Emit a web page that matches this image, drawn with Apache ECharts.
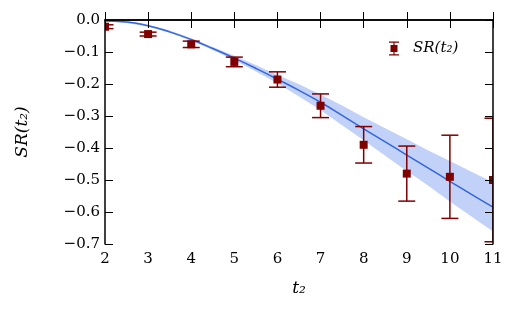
<!DOCTYPE html>
<html>
<head>
<meta charset="utf-8">
<script src="https://cdn.jsdelivr.net/npm/echarts@6/dist/echarts.min.js"></script>
<style>
  html, body { margin: 0; padding: 0; background: #fff; }
  #chart { width: 516px; height: 313px; }
</style>
</head>
<body>
<div id="chart"></div>
<script>
// measured points: t2, value, error
const ptX = [2, 3, 4, 5, 6, 7, 8, 9, 10, 11];
const ptY = [-0.021, -0.044, -0.076, -0.131, -0.186, -0.268, -0.390, -0.480, -0.490, -0.500];
const ptErr = [0.006, 0.006, 0.010, 0.015, 0.024, 0.037, 0.057, 0.086, 0.130, 0.193];

// fit curve and its band
const fitX = [2, 2.5, 3, 3.5, 4, 4.5, 5, 5.5, 6, 6.5, 7, 7.5, 8, 8.5, 9, 9.5, 10, 10.5, 11];
const fitY = [-0.003, -0.006, -0.018, -0.037, -0.061, -0.089, -0.119, -0.151, -0.185, -0.220,
  -0.257, -0.298, -0.340, -0.381, -0.422, -0.463, -0.504, -0.545, -0.585];
const bandHi = [-0.001, -0.003, -0.015, -0.033, -0.057, -0.084, -0.112, -0.141, -0.172, -0.201,
  -0.233, -0.267, -0.304, -0.338, -0.373, -0.408, -0.441, -0.474, -0.507];
const bandLo = [-0.005, -0.009, -0.021, -0.041, -0.065, -0.094, -0.126, -0.161, -0.198, -0.239,
  -0.281, -0.329, -0.376, -0.424, -0.472, -0.518, -0.567, -0.614, -0.661];

const font = "DejaVu Serif";
const red = "#800000";

const chart = echarts.init(document.getElementById("chart"));

const fmtY = v => {
  const s = Math.abs(v) < 1e-9 ? "0.0" : v.toFixed(1);
  return s.replace("-", "\u2212");
};

const baseAxis = {
  type: "value",
  z: 10,
  axisLine: { show: true, lineStyle: { color: "#000", width: 1.5 } },
  axisTick: { show: true, inside: true, length: 8, lineStyle: { color: "#000", width: 1 } },
  splitLine: { show: false }
};

chart.setOption({
  animation: false,
  grid: { left: 105, right: 23, top: 20, bottom: 69 },
  legend: {
    left: 389,
    top: 41,
    padding: 0,
    itemWidth: 10,
    itemHeight: 14,
    data: [{
      name: "SR(t\u2082)",
      icon: "path://M0,0H10V1.2H5.6V3.5H8.5V10.5H5.6V12.8H10V14H0V12.8H4.4V10.5H1.5V3.5H4.4V1.2H0Z"
    }],
    textStyle: { fontFamily: font, fontStyle: "italic", fontSize: 15, color: "#000", padding: [0, 0, 0, 9] }
  },
  xAxis: [
    {
      ...baseAxis,
      min: 2, max: 11, interval: 1,
      name: "t\u2082",
      nameLocation: "middle",
      nameGap: 36,
      nameTextStyle: { fontFamily: font, fontStyle: "italic", fontSize: 17, color: "#000" },
      axisLabel: { fontFamily: font, fontSize: 15, color: "#000", margin: 8 }
    },
    {
      ...baseAxis,
      position: "top",
      min: 2, max: 11, interval: 1,
      axisLabel: { show: false }
    }
  ],
  yAxis: [
    {
      ...baseAxis,
      min: -0.7, max: 0, interval: 0.1,
      name: "SR(t\u2082)",
      nameLocation: "middle",
      nameGap: 74,
      nameTextStyle: { fontFamily: font, fontStyle: "italic", fontSize: 17, color: "#000" },
      axisLabel: { fontFamily: font, fontSize: 15, color: "#000", margin: 5, formatter: fmtY }
    },
    {
      ...baseAxis,
      position: "right",
      min: -0.7, max: 0, interval: 0.1,
      axisLabel: { show: false }
    }
  ],
  series: [
    {
      // band: one polygon, drawn on the first item
      type: "custom",
      clip: true,
      silent: true,
      z: 1,
      data: fitX.map((x, i) => [x, bandHi[i], bandLo[i]]),
      renderItem: (params, api) => {
        if (params.dataIndex !== 0) return null;
        const upper = fitX.map((x, i) => api.coord([x, bandHi[i]]));
        const lower = fitX.map((x, i) => api.coord([x, bandLo[i]])).reverse();
        return {
          type: "polygon",
          shape: { points: upper.concat(lower) },
          style: { fill: "rgba(100,140,235,0.4)", stroke: null }
        };
      }
    },
    {
      type: "line",
      data: fitX.map((x, i) => [x, fitY[i]]),
      symbol: "none",
      smooth: true,
      lineStyle: { color: "#3366dd", width: 1.5 },
      z: 3
    },
    {
      name: "SR(t\u2082)",
      type: "custom",
      clip: true,
      z: 4,
      itemStyle: { color: red },
      data: ptX.map((x, i) => [x, ptY[i], ptErr[i]]),
      renderItem: (params, api) => {
        const x = api.value(0), y = api.value(1), e = api.value(2);
        const c = api.coord([x, y]);
        const top = api.coord([x, y + e]);
        const bot = api.coord([x, y - e]);
        const cap = 8.5, sq = 8;
        const ls = { stroke: red, lineWidth: 1.5 };
        return {
          type: "group",
          children: [
            { type: "line", shape: { x1: c[0], y1: top[1], x2: c[0], y2: bot[1] }, style: ls },
            { type: "line", shape: { x1: c[0] - cap, y1: top[1], x2: c[0] + cap, y2: top[1] }, style: ls },
            { type: "line", shape: { x1: c[0] - cap, y1: bot[1], x2: c[0] + cap, y2: bot[1] }, style: ls },
            { type: "rect", shape: { x: c[0] - sq / 2, y: c[1] - sq / 2, width: sq, height: sq }, style: { fill: red } }
          ]
        };
      }
    }
  ]
});
</script>
</body>
</html>
